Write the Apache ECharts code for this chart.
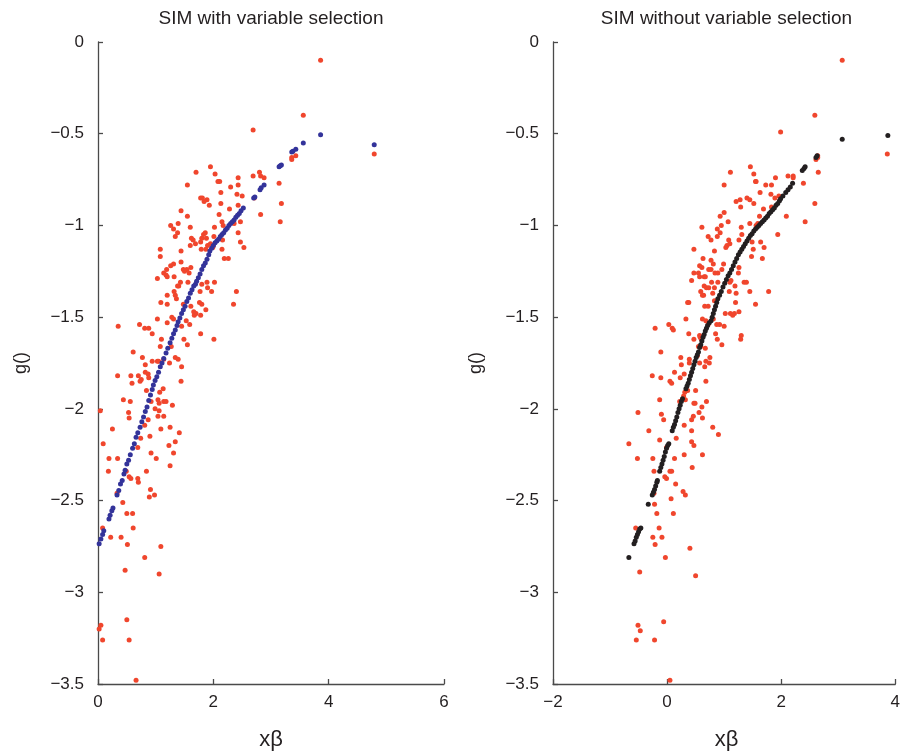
<!DOCTYPE html>
<html>
<head>
<meta charset="utf-8">
<script src="https://cdn.jsdelivr.net/npm/echarts@6/dist/echarts.min.js"></script>
<style>html,body{margin:0;padding:0;background:#fff;}#c{width:903px;height:753px;}</style>
</head>
<body>
<div id="c"></div>
<script>
// ---- Data ----
const titles = ['SIM with variable selection', 'SIM without variable selection'];
const xLabelText = 'x\u03b2';
const yLabelText = 'g()';

// Left panel: observed points (red) and fitted index curve (blue)
const leftObserved = [[3.86,-0.10],[3.56,-0.40],[2.69,-0.48],[4.79,-0.61],[3.43,-0.62],[3.36,-0.63],[3.36,-0.64],[1.95,-0.68],[1.70,-0.71],[2.03,-0.72],[2.69,-0.73],[2.80,-0.71],[2.82,-0.73],[2.88,-0.74],[2.43,-0.74],[2.11,-0.76],[2.08,-0.76],[1.55,-0.78],[2.43,-0.78],[3.14,-0.77],[2.30,-0.79],[2.13,-0.82],[2.41,-0.83],[2.50,-0.84],[1.78,-0.85],[1.81,-0.85],[1.84,-0.87],[1.89,-0.86],[2.71,-0.85],[2.13,-0.88],[1.93,-0.89],[3.18,-0.88],[2.43,-0.89],[2.28,-0.91],[1.44,-0.92],[1.55,-0.95],[2.82,-0.94],[2.10,-0.94],[3.16,-0.98],[2.47,-0.98],[2.36,-0.99],[2.15,-0.98],[2.17,-1.00],[1.39,-0.99],[1.26,-1.00],[1.31,-1.02],[1.60,-1.01],[1.38,-1.04],[1.34,-1.06],[2.02,-1.01],[1.83,-1.05],[1.86,-1.04],[2.43,-1.04],[2.01,-1.06],[1.62,-1.07],[1.65,-1.08],[1.69,-1.10],[1.60,-1.11],[1.80,-1.07],[1.78,-1.09],[1.88,-1.07],[1.90,-1.11],[1.95,-1.10],[2.47,-1.09],[2.53,-1.12],[2.16,-1.08],[2.15,-1.13],[2.00,-1.11],[1.99,-1.12],[1.08,-1.13],[1.08,-1.17],[1.44,-1.14],[1.79,-1.13],[1.87,-1.13],[2.19,-1.18],[2.26,-1.18],[1.26,-1.22],[1.31,-1.21],[1.44,-1.20],[1.19,-1.24],[1.14,-1.26],[1.18,-1.27],[1.20,-1.28],[1.48,-1.24],[1.54,-1.24],[1.50,-1.25],[1.61,-1.23],[1.32,-1.28],[1.03,-1.29],[1.43,-1.31],[1.40,-1.33],[1.38,-1.33],[1.56,-1.31],[1.58,-1.26],[1.32,-1.36],[1.34,-1.38],[1.36,-1.40],[1.20,-1.38],[1.09,-1.42],[1.20,-1.43],[1.80,-1.32],[1.89,-1.31],[1.90,-1.34],[1.97,-1.36],[2.02,-1.31],[1.77,-1.36],[1.76,-1.42],[1.80,-1.43],[2.40,-1.36],[2.35,-1.43],[1.61,-1.44],[1.66,-1.47],[1.67,-1.49],[1.70,-1.48],[1.78,-1.49],[1.87,-1.46],[1.48,-1.43],[1.28,-1.50],[1.31,-1.51],[1.03,-1.51],[1.20,-1.53],[1.59,-1.54],[0.35,-1.55],[0.72,-1.54],[0.81,-1.56],[0.88,-1.56],[1.53,-1.52],[0.94,-1.59],[1.45,-1.55],[1.78,-1.59],[2.01,-1.62],[1.49,-1.62],[1.55,-1.65],[1.10,-1.62],[1.08,-1.66],[1.27,-1.66],[0.61,-1.69],[0.77,-1.72],[0.82,-1.76],[0.94,-1.74],[1.03,-1.74],[1.05,-1.74],[1.14,-1.73],[1.24,-1.75],[1.34,-1.72],[1.39,-1.73],[1.45,-1.77],[0.34,-1.82],[0.57,-1.82],[0.59,-1.86],[0.70,-1.82],[0.75,-1.84],[0.73,-1.85],[0.82,-1.80],[0.87,-1.81],[0.88,-1.83],[1.44,-1.85],[0.84,-1.90],[1.07,-1.91],[1.13,-1.89],[0.44,-1.95],[0.56,-1.96],[0.92,-1.96],[1.04,-1.95],[1.06,-1.97],[1.14,-1.96],[1.18,-1.96],[1.29,-1.98],[0.99,-2.00],[1.06,-2.01],[1.04,-2.04],[1.14,-2.04],[0.53,-2.02],[0.54,-2.05],[0.04,-2.01],[0.87,-2.06],[0.81,-2.09],[0.25,-2.11],[1.09,-2.11],[1.25,-2.10],[1.41,-2.13],[0.90,-2.15],[0.74,-2.16],[1.34,-2.18],[0.09,-2.19],[1.23,-2.20],[0.69,-2.21],[0.92,-2.24],[1.01,-2.27],[1.31,-2.24],[0.19,-2.27],[0.34,-2.27],[1.25,-2.31],[0.18,-2.34],[0.84,-2.34],[0.49,-2.34],[0.54,-2.37],[0.57,-2.38],[0.69,-2.38],[0.70,-2.40],[0.33,-2.46],[0.91,-2.44],[0.98,-2.47],[0.89,-2.48],[0.43,-2.51],[0.50,-2.57],[0.60,-2.57],[0.08,-2.65],[0.61,-2.65],[0.22,-2.70],[0.40,-2.70],[0.51,-2.74],[1.09,-2.75],[0.81,-2.81],[0.47,-2.88],[1.06,-2.90],[0.50,-3.15],[0.05,-3.18],[0.02,-3.20],[0.08,-3.26],[0.54,-3.26],[0.66,-3.48]];

const leftFitted = [[0.02,-2.735],[0.05,-2.71],[0.08,-2.685],[0.10,-2.665],[0.19,-2.60],[0.21,-2.58],[0.24,-2.555],[0.26,-2.54],[0.33,-2.47],[0.36,-2.445],[0.39,-2.41],[0.42,-2.39],[0.45,-2.355],[0.47,-2.335],[0.50,-2.30],[0.53,-2.28],[0.56,-2.25],[0.60,-2.215],[0.63,-2.19],[0.66,-2.155],[0.69,-2.13],[0.73,-2.10],[0.76,-2.07],[0.79,-2.045],[0.82,-2.015],[0.85,-1.99],[0.88,-1.955],[0.91,-1.925],[0.94,-1.895],[0.96,-1.87],[0.99,-1.845],[1.02,-1.825],[1.05,-1.80],[1.08,-1.77],[1.11,-1.75],[1.14,-1.725],[1.18,-1.695],[1.21,-1.67],[1.25,-1.64],[1.28,-1.615],[1.31,-1.59],[1.34,-1.57],[1.37,-1.545],[1.39,-1.525],[1.42,-1.505],[1.45,-1.48],[1.48,-1.46],[1.51,-1.44],[1.54,-1.415],[1.57,-1.395],[1.60,-1.37],[1.63,-1.35],[1.66,-1.33],[1.69,-1.32],[1.71,-1.305],[1.74,-1.285],[1.77,-1.265],[1.80,-1.24],[1.83,-1.22],[1.86,-1.205],[1.89,-1.185],[1.92,-1.16],[1.94,-1.14],[1.97,-1.125],[2.00,-1.11],[2.03,-1.095],[2.06,-1.085],[2.09,-1.075],[2.12,-1.06],[2.15,-1.05],[2.18,-1.04],[2.21,-1.025],[2.24,-1.015],[2.27,-1.00],[2.30,-0.99],[2.33,-0.98],[2.36,-0.97],[2.39,-0.955],[2.42,-0.945],[2.45,-0.935],[2.48,-0.92],[2.52,-0.905],[2.70,-0.85],[2.72,-0.845],[2.81,-0.805],[2.83,-0.795],[2.88,-0.78],[3.14,-0.68],[3.16,-0.675],[3.18,-0.67],[3.36,-0.60],[3.38,-0.595],[3.43,-0.585],[3.56,-0.55],[3.86,-0.505],[4.79,-0.56]];

// Right panel: observed points (red) and fitted index curve (black)
const rightObserved = [[3.07,-0.10],[2.59,-0.40],[1.99,-0.49],[3.86,-0.61],[2.64,-0.62],[2.61,-0.64],[2.64,-0.63],[2.65,-0.71],[1.46,-0.68],[1.11,-0.71],[1.52,-0.72],[2.12,-0.73],[2.21,-0.73],[2.21,-0.74],[1.90,-0.74],[1.55,-0.76],[1.56,-0.76],[1.00,-0.78],[2.39,-0.77],[1.73,-0.78],[1.83,-0.78],[1.63,-0.82],[1.82,-0.83],[1.21,-0.87],[1.28,-0.86],[1.29,-0.90],[1.40,-0.85],[1.45,-0.86],[1.52,-0.88],[1.89,-0.85],[1.96,-0.84],[2.59,-0.88],[1.69,-0.91],[1.83,-0.90],[1.00,-0.93],[0.93,-0.95],[1.62,-0.95],[2.09,-0.95],[0.61,-1.01],[0.88,-1.02],[0.95,-1.00],[0.93,-1.04],[0.88,-1.06],[1.07,-0.98],[1.30,-1.01],[1.45,-0.99],[1.59,-0.99],[1.56,-1.00],[2.42,-0.98],[1.94,-1.05],[0.72,-1.06],[0.77,-1.08],[0.83,-1.14],[1.08,-1.08],[1.10,-1.10],[1.05,-1.11],[1.03,-1.12],[1.26,-1.08],[1.31,-1.05],[1.49,-1.09],[1.51,-1.13],[1.64,-1.09],[1.70,-1.12],[1.48,-1.17],[1.67,-1.18],[0.47,-1.13],[0.63,-1.18],[0.77,-1.19],[0.81,-1.21],[0.99,-1.21],[0.57,-1.22],[0.61,-1.23],[0.73,-1.24],[0.77,-1.24],[0.84,-1.26],[0.89,-1.26],[0.47,-1.26],[0.55,-1.26],[0.57,-1.28],[0.65,-1.28],[0.67,-1.28],[0.43,-1.30],[0.96,-1.24],[0.78,-1.31],[0.89,-1.31],[0.83,-1.34],[0.80,-1.37],[0.65,-1.33],[0.69,-1.34],[0.73,-1.34],[0.59,-1.36],[0.62,-1.38],[0.64,-1.38],[0.83,-1.41],[0.66,-1.44],[0.72,-1.44],[0.38,-1.42],[0.36,-1.42],[0.62,-1.51],[0.33,-1.51],[0.03,-1.54],[-0.21,-1.56],[0.09,-1.56],[0.11,-1.57],[1.10,-1.31],[1.12,-1.30],[1.19,-1.33],[1.21,-1.37],[1.09,-1.36],[1.20,-1.42],[1.25,-1.26],[1.26,-1.23],[1.35,-1.31],[1.39,-1.31],[1.45,-1.36],[1.78,-1.36],[1.55,-1.43],[1.02,-1.48],[1.11,-1.48],[1.15,-1.49],[1.18,-1.48],[1.26,-1.47],[0.92,-1.54],[1.00,-1.55],[0.81,-1.51],[0.87,-1.54],[0.68,-1.52],[0.72,-1.54],[0.38,-1.59],[0.57,-1.60],[0.58,-1.61],[0.60,-1.62],[0.47,-1.62],[0.85,-1.59],[0.88,-1.62],[0.96,-1.65],[1.30,-1.60],[1.29,-1.62],[0.55,-1.66],[0.59,-1.66],[0.67,-1.67],[-0.11,-1.69],[0.24,-1.72],[0.25,-1.76],[0.39,-1.73],[0.39,-1.75],[0.53,-1.71],[0.57,-1.75],[0.75,-1.72],[0.74,-1.75],[0.68,-1.74],[0.66,-1.77],[-0.26,-1.82],[-0.11,-1.83],[0.05,-1.85],[0.08,-1.86],[0.13,-1.80],[0.23,-1.83],[0.30,-1.81],[0.68,-1.85],[0.50,-1.90],[0.36,-1.90],[0.31,-1.91],[0.29,-1.93],[0.32,-1.95],[0.22,-1.96],[-0.13,-1.95],[-0.51,-2.02],[-0.10,-2.03],[-0.06,-2.06],[0.47,-1.97],[0.49,-1.97],[0.69,-1.96],[0.61,-1.99],[0.56,-2.02],[0.46,-2.04],[0.43,-2.06],[0.62,-2.05],[0.30,-2.09],[0.43,-2.12],[0.80,-2.10],[0.90,-2.14],[-0.32,-2.12],[-0.13,-2.17],[0.16,-2.16],[0.43,-2.18],[0.47,-2.20],[-0.67,-2.19],[-0.01,-2.21],[-0.52,-2.27],[-0.25,-2.27],[0.13,-2.27],[0.30,-2.25],[0.62,-2.25],[0.44,-2.32],[-0.23,-2.34],[0.05,-2.34],[0.08,-2.34],[-0.04,-2.37],[-0.01,-2.38],[0.15,-2.41],[0.28,-2.45],[0.32,-2.47],[-0.23,-2.46],[0.07,-2.49],[-0.22,-2.52],[-0.18,-2.57],[0.11,-2.57],[-0.55,-2.65],[-0.14,-2.65],[-0.25,-2.70],[-0.09,-2.70],[-0.21,-2.74],[0.40,-2.76],[-0.03,-2.81],[-0.48,-2.89],[0.50,-2.91],[-0.06,-3.16],[-0.51,-3.18],[-0.47,-3.21],[-0.54,-3.26],[-0.22,-3.26],[0.05,-3.48]];

const rightFitted = [[-0.67,-2.81],[-0.58,-2.735],[-0.56,-2.72],[-0.54,-2.70],[-0.52,-2.685],[-0.50,-2.67],[-0.48,-2.655],[-0.46,-2.65],[-0.33,-2.52],[-0.26,-2.47],[-0.24,-2.455],[-0.22,-2.44],[-0.20,-2.42],[-0.18,-2.40],[-0.17,-2.39],[-0.13,-2.34],[-0.11,-2.32],[-0.09,-2.30],[-0.07,-2.28],[-0.05,-2.26],[-0.03,-2.235],[-0.01,-2.215],[0.01,-2.20],[0.03,-2.19],[0.09,-2.12],[0.11,-2.10],[0.13,-2.085],[0.15,-2.065],[0.17,-2.045],[0.19,-2.02],[0.21,-2.00],[0.23,-1.98],[0.25,-1.96],[0.27,-1.945],[0.33,-1.89],[0.35,-1.875],[0.37,-1.86],[0.39,-1.84],[0.41,-1.82],[0.43,-1.80],[0.45,-1.78],[0.47,-1.76],[0.49,-1.74],[0.51,-1.72],[0.53,-1.705],[0.55,-1.69],[0.57,-1.665],[0.59,-1.65],[0.61,-1.63],[0.63,-1.61],[0.65,-1.595],[0.67,-1.575],[0.69,-1.56],[0.71,-1.545],[0.74,-1.53],[0.77,-1.52],[0.79,-1.50],[0.81,-1.48],[0.83,-1.46],[0.85,-1.44],[0.87,-1.42],[0.89,-1.40],[0.92,-1.38],[0.95,-1.36],[0.98,-1.335],[1.01,-1.315],[1.04,-1.295],[1.07,-1.275],[1.10,-1.26],[1.13,-1.24],[1.16,-1.22],[1.19,-1.20],[1.22,-1.18],[1.25,-1.16],[1.28,-1.145],[1.31,-1.13],[1.34,-1.115],[1.37,-1.10],[1.40,-1.085],[1.43,-1.07],[1.46,-1.055],[1.49,-1.045],[1.52,-1.03],[1.55,-1.02],[1.58,-1.01],[1.61,-1.00],[1.64,-0.99],[1.67,-0.98],[1.70,-0.97],[1.73,-0.96],[1.76,-0.95],[1.79,-0.935],[1.82,-0.925],[1.85,-0.915],[1.88,-0.905],[1.91,-0.89],[1.94,-0.88],[1.97,-0.865],[1.99,-0.855],[2.03,-0.84],[2.08,-0.82],[2.12,-0.805],[2.16,-0.79],[2.20,-0.77],[2.37,-0.70],[2.40,-0.69],[2.42,-0.68],[2.61,-0.63],[2.63,-0.62],[3.07,-0.53],[3.87,-0.51]];

// Axis ranges / ticks
const yRange = {min: -3.5, max: 0, interval: 0.5};
const leftXRange = {min: 0, max: 6, interval: 2};
const rightXRange = {min: -2, max: 4, interval: 2};

// ---- Chart ----
const FONT = '"Liberation Sans", Arial, Helvetica, sans-serif';
const TEXT = '#231f20';
const AXIS = '#4a4a4a';
const RED = '#f0462d';
const BLUE = '#33339a';
const BLACK = '#231f20';

const grids = [
  {left: 98, top: 42, width: 346, height: 642},
  {left: 553, top: 42, width: 347, height: 642}
];
const minusFmt = v => String(+v.toFixed(2)).replace('-', '\u2212');
function xAxis(idx, r) {
  return {
    type: 'value', gridIndex: idx, min: r.min, max: r.max, interval: r.interval,
    axisLine: {show: true, onZero: false, lineStyle: {color: AXIS, width: 1.3}},
    axisTick: {show: true, inside: true, length: 5, lineStyle: {color: AXIS, width: 1.3}},
    splitLine: {show: false},
    axisLabel: {color: TEXT, fontSize: 17, fontFamily: FONT, margin: 10, formatter: minusFmt}
  };
}
function yAxis(idx) {
  return {
    type: 'value', gridIndex: idx, min: yRange.min, max: yRange.max, interval: yRange.interval,
    axisLine: {show: true, onZero: false, lineStyle: {color: AXIS, width: 1.3}},
    axisTick: {show: true, inside: true, length: 5, lineStyle: {color: AXIS, width: 1.3}},
    splitLine: {show: false},
    axisLabel: {color: TEXT, fontSize: 17, fontFamily: FONT, margin: 14, formatter: minusFmt}
  };
}
function centerX(g) { return g.left + g.width / 2; }
function centerY(g) { return g.top + g.height / 2; }

const graphics = [];
grids.forEach((g, i) => {
  graphics.push({type: 'text', x: centerX(g), y: 19, style: {text: titles[i], align: 'center', verticalAlign: 'middle', fontSize: 19, fontFamily: FONT, fill: TEXT}});
  graphics.push({type: 'text', x: centerX(g), y: 740, style: {text: xLabelText, align: 'center', verticalAlign: 'middle', fontSize: 22, fontFamily: FONT, fill: TEXT}});
  graphics.push({type: 'text', x: g.left - 77, y: centerY(g), rotation: Math.PI / 2, style: {text: yLabelText, align: 'center', verticalAlign: 'middle', fontSize: 18, fontFamily: FONT, fill: TEXT}});
});

const chart = echarts.init(document.getElementById('c'), null, {renderer: 'canvas'});
chart.setOption({
  backgroundColor: '#ffffff',
  animation: false,
  grid: grids,
  xAxis: [xAxis(0, leftXRange), xAxis(1, rightXRange)],
  yAxis: [yAxis(0), yAxis(1)],
  series: [
    {type: 'scatter', xAxisIndex: 0, yAxisIndex: 0, data: leftObserved, symbolSize: 5, itemStyle: {color: RED, opacity: 1}, z: 2},
    {type: 'scatter', xAxisIndex: 0, yAxisIndex: 0, data: leftFitted, symbolSize: 5, itemStyle: {color: BLUE, opacity: 1}, z: 3},
    {type: 'scatter', xAxisIndex: 1, yAxisIndex: 1, data: rightObserved, symbolSize: 5, itemStyle: {color: RED, opacity: 1}, z: 2},
    {type: 'scatter', xAxisIndex: 1, yAxisIndex: 1, data: rightFitted, symbolSize: 5, itemStyle: {color: BLACK, opacity: 1}, z: 3}
  ],
  graphic: graphics
});
</script>
</body>
</html>
